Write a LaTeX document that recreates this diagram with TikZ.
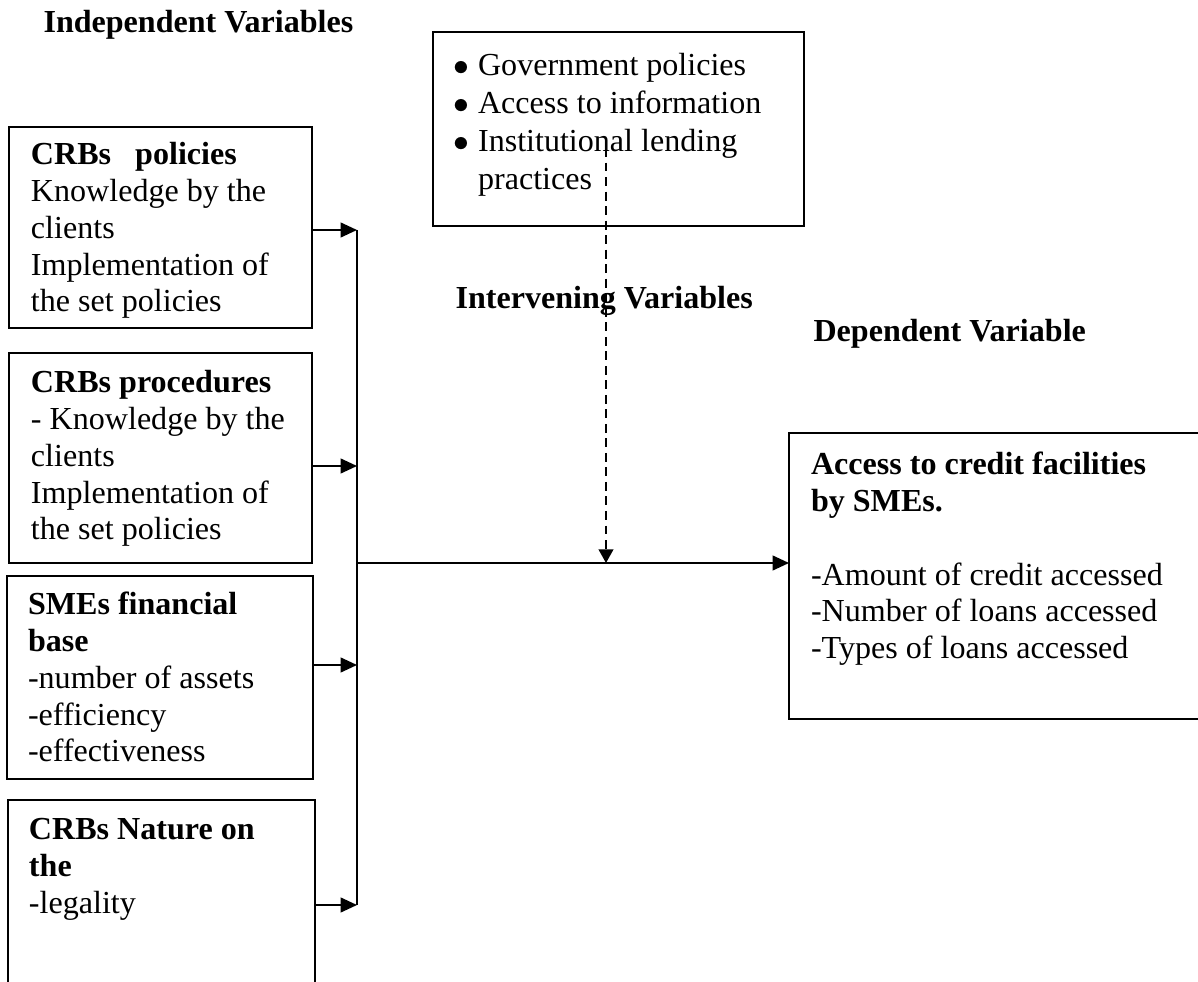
\documentclass[tikz,border=0pt]{standalone}
\usepackage{fontspec}
\setmainfont{Liberation Serif}
\usetikzlibrary{arrows.meta}
\newcommand\pxu[1]{#1*0.3788pt}
\begin{document}
\begin{tikzpicture}[x=0.3788pt,y=-0.3788pt,
  box/.style={draw, line width=0.6pt, inner sep=0pt, outer sep=0pt, anchor=north west},
  txt/.style={anchor=north west, inner sep=0pt, outer sep=0pt, align=left, font=\fontsize{12.15}{13.9}\selectfont},
  head/.style={anchor=base west, inner sep=0pt, font=\fontsize{12.15}{13.9}\selectfont\bfseries},
  arr/.style={line width=0.7pt, -{Triangle[length=6.2pt,width=5.6pt]}},
  busline/.style={line width=0.7pt},
  dashline/.style={line width=0.7pt, dash pattern=on 3.4pt off 2.1pt, -{Triangle[length=5.2pt,width=5.6pt]}}
]
\useasboundingbox (0,0) rectangle (1198,982);
\clip (0,0) rectangle (1198,982);

% headings
\node[head] (hind) at (43,33) {Independent Variables};
\node[head] (hint) at (455,309) {Intervening Variables};
\node[head] (hdep) at (813,342) {Dependent Variable};

% boxes
\node[box, minimum width=\pxu{303}, minimum height=\pxu{201}] (b1) at (9,127) {};
\node[box, minimum width=\pxu{303}, minimum height=\pxu{210}] (b2) at (9,353) {};
\node[box, minimum width=\pxu{306}, minimum height=\pxu{203}] (b3) at (7,576) {};
\node[box, minimum width=\pxu{307}, minimum height=\pxu{220}] (b4) at (8,800) {};
\node[box, minimum width=\pxu{371}, minimum height=\pxu{194}] (int) at (433,32) {};
\node[box, minimum width=\pxu{450}, minimum height=\pxu{286}] (dep) at (789,433) {};

% box texts
\node[txt] (t1) at (31,139.3) {\strut\textbf{CRBs\ \ \ policies}\\Knowledge by the\\clients\\Implementation of\\the set policies};
\node[txt] (t2) at (31,367.3) {\strut\textbf{CRBs procedures}\\- Knowledge by the\\clients\\Implementation of\\the set policies};
\node[txt] (t3) at (28,589.3) {\strut\textbf{SMEs financial}\\\textbf{base}\\-number of assets\\-efficiency\\-effectiveness};
\node[txt] (t4) at (29,814.3) {\strut\textbf{CRBs Nature on}\\\textbf{the}\\-legality};
\node[txt] (t5) at (811,449.3) {\strut\textbf{Access to credit facilities}\\\textbf{by SMEs.}\\[13.9pt]-Amount of credit accessed\\-Number of loans accessed\\-Types of loans accessed};
\node[anchor=north west, inner sep=0pt, outer sep=0pt, font=\fontsize{12.15}{14.4}\selectfont] (tint) at (453,48.4)
  {\begin{tabular}{@{}p{9.5pt}@{}l@{}}
   $\bullet$ & Government policies\\
   $\bullet$ & Access to information\\
   $\bullet$ & Institutional lending\\
     & practices
   \end{tabular}};

% connectors
\coordinate (bus1) at (357,230);
\coordinate (bus2) at (357,466);
\coordinate (bus3) at (357,665);
\coordinate (bus4) at (357,905);
\coordinate (junc) at (357,563);
\coordinate (dtop) at (606,148);
\coordinate (dbot) at (606,563);

\draw[busline] (bus1) -- (bus4);
\draw[arr] (b1.east |- bus1) -- (bus1);
\draw[arr] (b2.east |- bus2) -- (bus2);
\draw[arr] (b3.east |- bus3) -- (bus3);
\draw[arr] (b4.east |- bus4) -- (bus4);
\draw[arr] (junc) -- (dep.west |- junc);
\draw[dashline] (dtop) -- (dbot);
\end{tikzpicture}
\end{document}
